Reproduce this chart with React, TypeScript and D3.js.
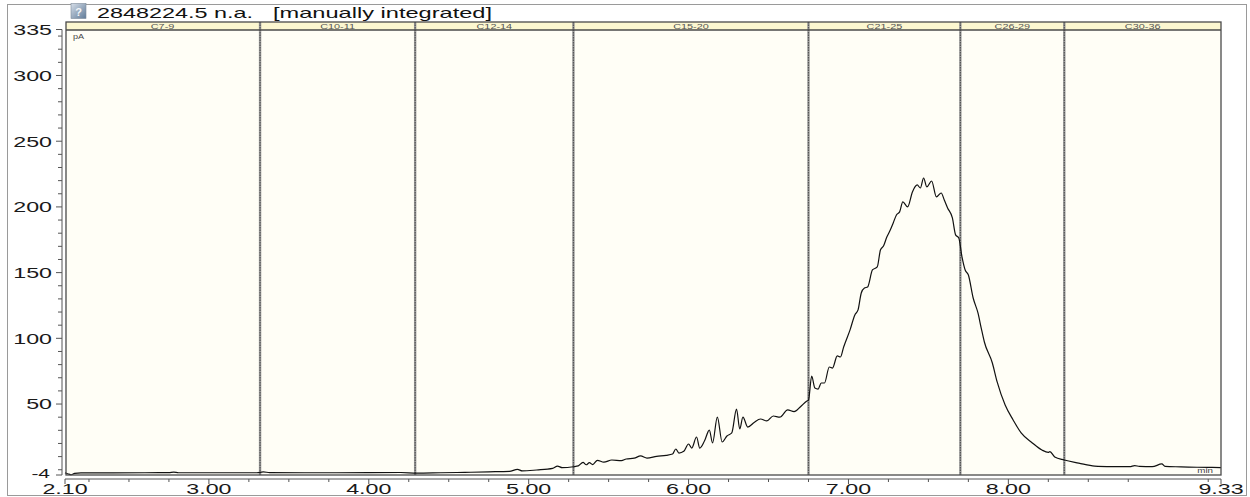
import React from "react";
import * as d3 from "d3";

// ---- data ----
const headerValue = "2848224.5 n.a.";
const headerNote = "[manually integrated]";
const bandLabels = ["C7-9", "C10-11", "C12-14", "C15-20", "C21-25", "C26-29", "C30-36"];
const bandEdges = [2.1, 3.32, 4.29, 5.28, 6.75, 7.7, 8.35, 9.33];
const xTickValues = [2.1, 3, 4, 5, 6, 7, 8, 9.33];
const xTickLabels = ["2.10", "3.00", "4.00", "5.00", "6.00", "7.00", "8.00", "9.33"];
const yTickValues = [-4, 50, 100, 150, 200, 250, 300, 335];
const yTickLabels = ["-4", "50", "100", "150", "200", "250", "300", "335"];

const traceTime = [
  2.1, 2.12, 2.14, 2.16, 2.2, 2.4, 2.6, 2.75, 2.78, 2.81, 3.0, 3.3, 3.34, 3.38, 3.6, 3.8,
  4.0, 4.2, 4.3, 4.45, 4.6, 4.75, 4.88, 4.93, 4.96, 5.05, 5.15, 5.18, 5.21, 5.28, 5.31,
  5.34, 5.36, 5.38, 5.4, 5.43, 5.47, 5.52, 5.58, 5.61, 5.66, 5.7, 5.74, 5.8, 5.86, 5.9,
  5.92, 5.94, 5.97, 6.0, 6.02, 6.05, 6.07, 6.1, 6.13, 6.15, 6.18, 6.21, 6.24, 6.27, 6.3,
  6.32, 6.34, 6.37, 6.41, 6.45, 6.49, 6.53, 6.57, 6.62, 6.66, 6.7, 6.74, 6.75, 6.77, 6.79,
  6.81, 6.83, 6.85, 6.88, 6.9, 6.93, 6.95, 6.97, 7.01, 7.04, 7.06, 7.08, 7.1, 7.12, 7.15,
  7.18, 7.2, 7.22, 7.24, 7.26, 7.28, 7.3, 7.32, 7.34, 7.37, 7.4, 7.43, 7.45, 7.47, 7.49,
  7.52, 7.55, 7.58, 7.6, 7.62, 7.65, 7.67, 7.69, 7.71, 7.73, 7.75, 7.78, 7.81, 7.83, 7.85,
  7.9, 7.93, 7.98, 8.03, 8.08, 8.15, 8.21, 8.25, 8.26, 8.29, 8.35, 8.44, 8.54, 8.65, 8.76,
  8.79, 8.82, 8.9, 8.96, 8.98, 9.08, 9.18, 9.25, 9.33,
];
const tracePA = [
  -2.3, -3.2, -3.8, -2.8, -2.4, -2.4, -2.3, -2.2, -1.8, -2.3, -2.3, -2.3, -1.6, -2.2, -2.3, -2.3,
  -2.2, -2.1, -2.6, -2.3, -2.0, -1.6, -1.2, 0.3, -0.9, -0.2, 1.0, 2.8, 1.6, 2.3, 2.9,
  5.6, 3.8, 5.4, 3.9, 7.2, 5.8, 7.4, 7.0, 8.2, 8.8, 10.5, 8.9, 10.2, 11.0, 12.0,
  15.8, 12.7, 14.0, 19.6, 16.5, 24.9, 16.5, 22.0, 30.2, 20.4, 40.1, 21.1, 25.7, 28.0, 46.2,
  31.0, 40.1, 32.5, 36.0, 38.6, 37.2, 40.9, 40.0, 45.5, 44.2, 48.0, 52.3, 53.0, 71.3, 62.2,
  61.4, 66.0, 66.0, 78.2, 77.4, 86.6, 85.8, 93.4, 106.4, 117.8, 121.6, 134.5, 138.3, 139.1, 152.0,
  154.3, 167.2, 170.5, 177.1, 182.0, 187.8, 193.9, 196.2, 203.8, 200.0, 211.4, 216.7, 214.4, 222.0, 215.2,
  219.7, 207.6, 210.6, 205.0, 199.2, 191.6, 178.7, 176.4, 162.0, 152.0, 148.2, 130.7, 119.3, 108.0, 97.2,
  81.2, 66.8, 49.3, 37.9, 28.0, 20.4, 15.0, 13.2, 13.8, 9.7, 7.4, 5.1, 2.8, 2.4, 2.3,
  3.2, 2.5, 2.3, 4.4, 2.5, 2.2, 1.9, 1.8, 1.6,
];

// ---- layout ----
const W = 1250;
const H = 497;
const plotLeft = 66;
const plotRight = 1221;
const stripTop = 22;
const plotTop = 30;
const plotBottom = 475;
const yAxisX = 62;
const xAxisY = 479;
const FONT = "'Liberation Sans', Arial, sans-serif";

function SText(props: {
  x: number; y: number; sx: number; size: number; anchor?: string; fill?: string; children: React.ReactNode;
}) {
  const { x, y, sx, size, anchor = "start", fill = "#111", children } = props;
  return (
    <text
      transform={`translate(${x},${y}) scale(${sx},1)`}
      textAnchor={anchor as any}
      fontSize={size}
      fontFamily={FONT}
      fill={fill}
    >
      {children}
    </text>
  );
}

export default function App() {
  const x = d3.scaleLinear().domain([2.1, 9.33]).range([65, 1221]);
  const y = d3.scaleLinear().domain([-4, 335]).range([plotBottom, 29.5]);

  const pts: [number, number][] = traceTime.map((t, i) => [t, tracePA[i]]);
  const line = d3
    .line<[number, number]>()
    .x((d) => x(d[0]))
    .y((d) => y(d[1]))
    .curve(d3.curveMonotoneX);

  const yMinor = d3.range(0, 336, 10).filter((v) => !yTickValues.includes(v));
  const xMinor = d3.range(2.25, 9.33, 0.25).filter((v) => Math.abs(v - Math.round(v)) > 0.01);

  return (
    <svg
      width={W}
      height={H}
      viewBox={`0 0 ${W} ${H}`}
      style={{ position: "absolute", left: 0, top: 0, background: "#fff" }}
    >
      <defs>
        <linearGradient id="icon" x1="0" y1="0" x2="1" y2="1">
          <stop offset="0" stopColor="#d6dee8" />
          <stop offset="1" stopColor="#5f7a98" />
        </linearGradient>
      </defs>
      {/* outer frame */}
      <rect x={7.5} y={4.5} width={1239} height={491} fill="none" stroke="#9a9a9a" strokeWidth={1} />

      {/* header */}
      <rect x={71} y={3.5} width={15} height={15} fill="url(#icon)" stroke="#7d8b99" strokeWidth={0.6} />
      <text x={78.5} y={15.5} textAnchor="middle" fontSize={11} fontFamily={FONT} fill="#f4f6f8" fontWeight="bold">
        ?
      </text>
      <text x={97} y={18.3} fontSize={14.5} fontFamily={FONT} fill="#111" textLength={156} lengthAdjust="spacingAndGlyphs">
        {headerValue}
      </text>
      <text x={273} y={18.3} fontSize={14.5} fontFamily={FONT} fill="#111" textLength={219} lengthAdjust="spacingAndGlyphs">
        {headerNote}
      </text>

      {/* plot background */}
      <rect x={plotLeft} y={plotTop} width={plotRight - plotLeft} height={plotBottom - plotTop} fill="#fffef6" />
      <rect x={plotLeft} y={stripTop} width={plotRight - plotLeft} height={plotTop - stripTop} fill="#fcf7d0" />

      {/* band labels */}
      {bandLabels.map((lab, i) => (
        <SText
          key={lab}
          x={(x(bandEdges[i]) + x(bandEdges[i + 1])) / 2}
          y={28.5}
          sx={1.45}
          size={7.5}
          anchor="middle"
          fill="#555"
        >
          {lab}
        </SText>
      ))}

      {/* band separators */}
      {bandEdges.slice(1, -1).map((t) => (
        <g key={t}>
          <line x1={x(t)} x2={x(t)} y1={stripTop} y2={plotBottom} stroke="#9a9a9a" strokeWidth={2.4} />
          <line
            x1={x(t)}
            x2={x(t)}
            y1={stripTop}
            y2={plotBottom}
            stroke="#555"
            strokeWidth={1.2}
            strokeDasharray="1.5 1"
          />
        </g>
      ))}

      {/* trace */}
      <path d={line(pts) || ""} fill="none" stroke="#111" strokeWidth={1.2} strokeLinejoin="round" />

      {/* frame */}
      <rect
        x={plotLeft}
        y={stripTop}
        width={plotRight - plotLeft}
        height={plotBottom - stripTop}
        fill="none"
        stroke="#4a4a4a"
        strokeWidth={1.3}
      />
      <line x1={plotLeft} x2={plotRight} y1={plotTop} y2={plotTop} stroke="#4a4a4a" strokeWidth={1.3} />

      {/* in-plot unit labels */}
      <SText x={73} y={38.5} sx={1.3} size={7} fill="#444">pA</SText>
      <SText x={1213} y={473} sx={1.4} size={7} anchor="end" fill="#444">min</SText>

      {/* y axis */}
      <line x1={yAxisX} x2={yAxisX} y1={y(335)} y2={y(-4)} stroke="#555" strokeWidth={1} />
      {yMinor.map((v) => (
        <line key={"ym" + v} x1={yAxisX - 4} x2={yAxisX} y1={y(v)} y2={y(v)} stroke="#555" strokeWidth={1} />
      ))}
      {yTickValues.map((v, i) => (
        <g key={"yt" + v}>
          <line x1={yAxisX - 6} x2={yAxisX} y1={y(v)} y2={y(v)} stroke="#555" strokeWidth={1} />
          <SText
            x={v === -4 ? 50 : 52}
            y={v === -4 ? y(v) + 2.5 : y(v) + 5.3}
            sx={1.55}
            size={v === -4 ? 13.5 : 15}
            anchor="end"
            fill="#1a1a1a"
          >
            {yTickLabels[i]}
          </SText>
        </g>
      ))}

      {/* x axis */}
      <line x1={x(2.1)} x2={x(9.33)} y1={xAxisY} y2={xAxisY} stroke="#555" strokeWidth={1} />
      {xMinor.map((v) => (
        <line key={"xm" + v} x1={x(v)} x2={x(v)} y1={xAxisY} y2={xAxisY + 3} stroke="#555" strokeWidth={1} />
      ))}
      {xTickValues.map((v, i) => (
        <g key={"xt" + v}>
          <line x1={x(v)} x2={x(v)} y1={xAxisY} y2={xAxisY + 5} stroke="#555" strokeWidth={1} />
          <SText x={x(v)} y={494} sx={1.55} size={15} anchor="middle" fill="#1a1a1a">
            {xTickLabels[i]}
          </SText>
        </g>
      ))}
    </svg>
  );
}
